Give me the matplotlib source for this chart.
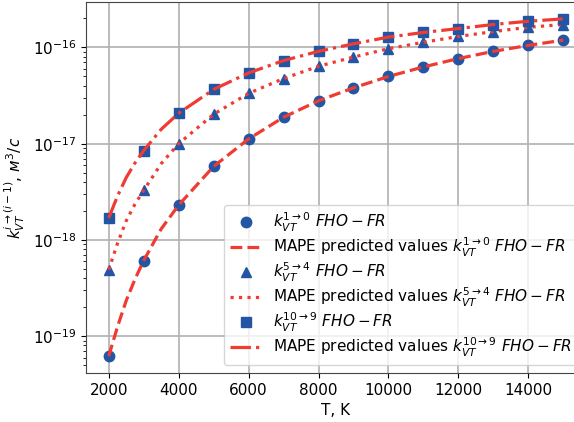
import matplotlib
matplotlib.use("Agg")
import matplotlib.pyplot as plt

# Temperatures, K
T = [2000, 3000, 4000, 5000, 6000, 7000, 8000, 9000, 10000, 11000, 12000, 13000, 14000, 15000]

# FHO-FR rate coefficients, m^3/s
k_1_0 = [6.2e-20, 6.1e-19, 2.3e-18, 5.8e-18, 1.12e-17, 1.88e-17, 2.79e-17, 3.8e-17,
         4.99e-17, 6.27e-17, 7.66e-17, 9.1e-17, 1.05e-16, 1.19e-16]
k_5_4 = [4.9e-19, 3.27e-18, 1.0e-17, 2.02e-17, 3.33e-17, 4.75e-17, 6.37e-17, 7.94e-17,
         9.7e-17, 1.13e-16, 1.3e-16, 1.46e-16, 1.62e-16, 1.73e-16]
k_10_9 = [1.69e-18, 8.47e-18, 2.07e-17, 3.66e-17, 5.43e-17, 7.3e-17, 9.1e-17, 1.09e-16,
          1.28e-16, 1.43e-16, 1.57e-16, 1.73e-16, 1.87e-16, 1.98e-16]

# MAPE predicted values
T_pred = [2000, 2250, 2500, 2750, 3000, 3500, 4000, 5000, 6000, 7000, 8000, 9000, 10000, 11000, 12000, 13000, 14000, 15000]
p_1_0 = [6.2e-20, 1.25e-19, 2.34e-19, 3.9e-19, 6.1e-19, 1.30e-18, 2.3e-18, 5.8e-18, 1.12e-17, 1.88e-17, 2.79e-17,
         3.8e-17, 4.99e-17, 6.27e-17, 7.66e-17, 9.1e-17, 1.05e-16, 1.19e-16]
p_5_4 = [4.9e-19, 9.2e-19, 1.58e-18, 2.35e-18, 3.27e-18, 6.19e-18, 1.0e-17, 2.02e-17, 3.33e-17, 4.75e-17, 6.37e-17,
         7.94e-17, 9.7e-17, 1.13e-16, 1.3e-16, 1.46e-16, 1.62e-16, 1.73e-16]
p_10_9 = [1.69e-18, 2.85e-18, 4.44e-18, 6.3e-18, 8.47e-18, 1.41e-17, 2.07e-17, 3.66e-17, 5.43e-17, 7.3e-17, 9.1e-17,
          1.09e-16, 1.28e-16, 1.43e-16, 1.57e-16, 1.73e-16, 1.87e-16, 1.98e-16]

blue = "#2255a4"
red = "#ef3b32"

fig = plt.figure(figsize=(5.74, 4.22), dpi=100)
ax = fig.add_axes([86/574, 49/422, 500/574, 371/422])

lw = 2.3
ms = 7.5
ax.semilogy(T, k_1_0, 'o', color=blue, ms=ms, label=r'$k_{VT}^{1\rightarrow 0}\ FHO-FR$')
ax.semilogy(T_pred, p_1_0, '--', color=red, lw=lw,
            label=r'MAPE predicted values $k_{VT}^{1\rightarrow 0}\ FHO-FR$')
ax.semilogy(T, k_5_4, '^', color=blue, ms=ms, label=r'$k_{VT}^{5\rightarrow 4}\ FHO-FR$')
ax.semilogy(T_pred, p_5_4, ':', color=red, lw=lw,
            label=r'MAPE predicted values $k_{VT}^{5\rightarrow 4}\ FHO-FR$')
ax.semilogy(T, k_10_9, 's', color=blue, ms=ms, label=r'$k_{VT}^{10\rightarrow 9}\ FHO-FR$')
ax.semilogy(T_pred, p_10_9, '-.', color=red, lw=lw,
            label=r'MAPE predicted values $k_{VT}^{10\rightarrow 9}\ FHO-FR$')

ax.grid(True, which='major', color='#b0b0b0', lw=1.2)
ax.set_xticks([2000, 4000, 6000, 8000, 10000, 12000, 14000])
ax.tick_params(labelsize=11)
ax.set_xlabel('T, K', fontsize=11)
ax.set_ylabel(r'$k_{VT}^{i\rightarrow(i-1)}$, $м^3/с$', fontsize=11)
for s in ax.spines.values():
    s.set_color('#444444')

ax.legend(loc='lower right', fontsize=11, framealpha=0.8, labelspacing=0.12)

fig.savefig('out.png', dpi=100)
